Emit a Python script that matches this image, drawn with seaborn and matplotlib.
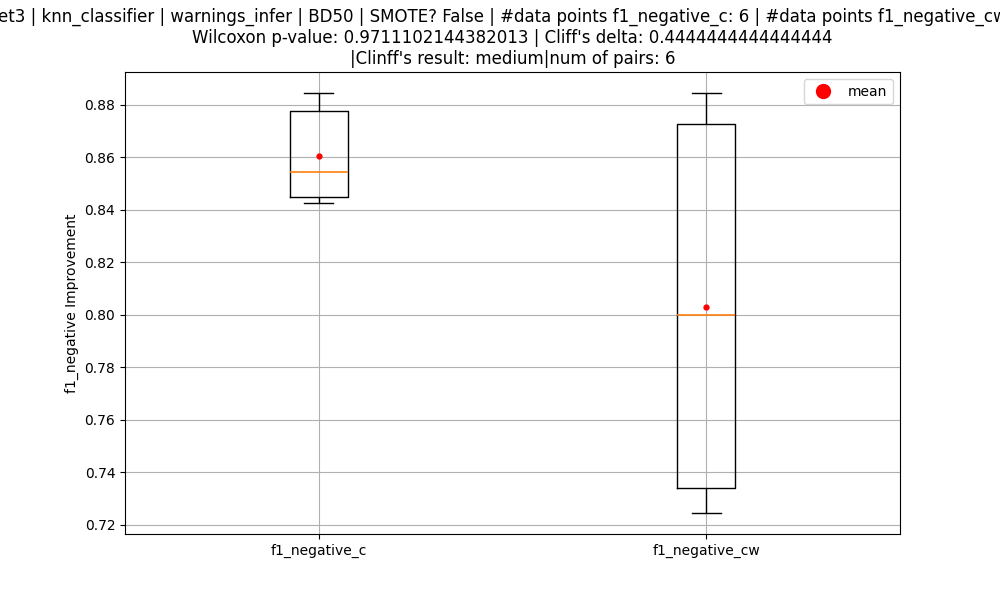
import matplotlib
matplotlib.use("Agg")
import matplotlib.pyplot as plt
import seaborn as sns
import pandas as pd
from matplotlib.lines import Line2D

categories = ["f1_negative_c", "f1_negative_cw"]
f1_negative_c = [0.8425, 0.8435, 0.8495, 0.8595, 0.8835, 0.8845]
f1_negative_cw = [0.7245, 0.728, 0.752, 0.848, 0.881, 0.8845]

df = pd.DataFrame({
    "group": [categories[0]] * len(f1_negative_c) + [categories[1]] * len(f1_negative_cw),
    "value": f1_negative_c + f1_negative_cw,
})

fig, ax = plt.subplots(figsize=(10, 6), dpi=100)
sns.boxplot(data=df, x="group", y="value", ax=ax, width=0.15, fill=False,
            color="black", linewidth=1, whis=1.5, showmeans=True,
            medianprops=dict(color="#ff7f0e", linewidth=1.2, zorder=4),
            meanprops=dict(marker="o", markerfacecolor="red", markeredgecolor="red",
                           markersize=3.5, zorder=5),
            capprops=dict(color="black", zorder=3), whiskerprops=dict(color="black", zorder=3),
            boxprops=dict(color="black", zorder=3))
ax.set_xlim(-0.5, 1.5)
ax.grid(True)
ax.set_axisbelow(True)
ax.set_xlabel("")
ax.set_ylabel("f1_negative Improvement")
ax.set_title("et3 | knn_classifier | warnings_infer | BD50 | SMOTE? False | #data points f1_negative_c: 6 | #data points f1_negative_cw: 6\n"
             "Wilcoxon p-value: 0.9711102144382013 | Cliff's delta: 0.4444444444444444\n"
             "|Clinff's result: medium|num of pairs: 6")
handle = Line2D([], [], marker="o", color="red", linestyle="none", markersize=10, label="mean")
ax.legend(handles=[handle], loc="upper right")
fig.savefig("out.png")
